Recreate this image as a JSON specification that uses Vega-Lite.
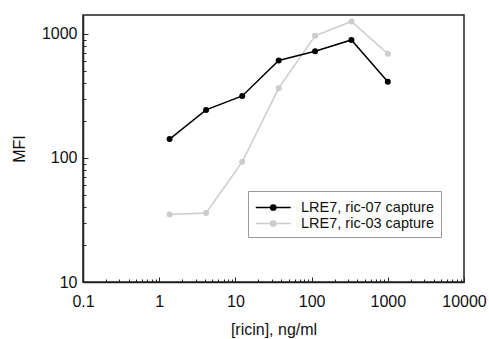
{
  "$schema": "https://vega.github.io/schema/vega-lite/v6.json",
  "width": 381,
  "height": 267,
  "autosize": "none",
  "padding": {"left": 83, "top": 15, "right": 25, "bottom": 57},
  "background": "white",
  "config": {
    "font": "Liberation Sans",
    "view": {"stroke": "#222", "strokeWidth": 1.5},
    "axis": {"grid": false, "domainColor": "#222", "domainWidth": 1.5, "tickColor": "#222", "tickWidth": 1, "labelColor": "#111", "titleColor": "#111", "labelFontSize": 16, "titleFontSize": 16, "titleFontWeight": "normal", "labelOverlap": false, "labelBound": false, "labelFlush": false}
  },
  "data": {
    "values": [
      {"series": "LRE7, ric-03 capture", "conc": 1.37, "mfi": 35},
      {"series": "LRE7, ric-03 capture", "conc": 4.12, "mfi": 36},
      {"series": "LRE7, ric-03 capture", "conc": 12.3, "mfi": 93},
      {"series": "LRE7, ric-03 capture", "conc": 37, "mfi": 365},
      {"series": "LRE7, ric-03 capture", "conc": 111, "mfi": 964},
      {"series": "LRE7, ric-03 capture", "conc": 333, "mfi": 1260},
      {"series": "LRE7, ric-03 capture", "conc": 1000, "mfi": 692},
      {"series": "LRE7, ric-07 capture", "conc": 1.37, "mfi": 142},
      {"series": "LRE7, ric-07 capture", "conc": 4.12, "mfi": 244},
      {"series": "LRE7, ric-07 capture", "conc": 12.3, "mfi": 316},
      {"series": "LRE7, ric-07 capture", "conc": 37, "mfi": 610},
      {"series": "LRE7, ric-07 capture", "conc": 111, "mfi": 725},
      {"series": "LRE7, ric-07 capture", "conc": 333, "mfi": 894},
      {"series": "LRE7, ric-07 capture", "conc": 1000, "mfi": 412}
    ]
  },
  "mark": {"type": "line", "strokeWidth": 1.5, "point": {"filled": true, "size": 36, "opacity": 1}},
  "encoding": {
    "x": {
      "field": "conc", "type": "quantitative",
      "scale": {"type": "log", "domain": [0.1, 10000], "nice": false},
      "axis": {
        "title": "[ricin], ng/ml",
        "values": [0.1,0.2,0.3,0.4,0.5,0.6,0.7,0.8,0.9,1,2,3,4,5,6,7,8,9,10,20,30,40,50,60,70,80,90,100,200,300,400,500,600,700,800,900,1000,2000,3000,4000,5000,6000,7000,8000,9000,10000],
        "format": "~g",
        "labelExpr": "indexof([0.1,1,10,100,1000,10000], datum.value) >= 0 ? datum.label : ''",
        "tickSize": {"condition": {"test": "indexof([0.1,1,10,100,1000,10000], datum.value) >= 0", "value": -5}, "value": -3},
        "labelPadding": 16,
        "titleX": 190.5, "titleY": 47, "titleBaseline": "middle", "titleAlign": "center"
      }
    },
    "y": {
      "field": "mfi", "type": "quantitative",
      "scale": {"type": "log", "domain": [10, 1420], "nice": false},
      "axis": {
        "title": "MFI",
        "values": [10,20,30,40,50,60,70,80,90,100,200,300,400,500,600,700,800,900,1000],
        "format": "~g",
        "labelExpr": "indexof([10,100,1000], datum.value) >= 0 ? datum.label : ''",
        "tickSize": {"condition": {"test": "indexof([10,100,1000], datum.value) >= 0", "value": -5}, "value": -3},
        "labelPadding": 11,
        "titleX": -64, "titleY": 133.5, "titleBaseline": "middle", "titleAlign": "center", "titleAngle": -90
      }
    },
    "color": {
      "field": "series", "type": "nominal",
      "scale": {"domain": ["LRE7, ric-07 capture", "LRE7, ric-03 capture"], "range": ["#000000", "#cccccc"]},
      "legend": {
        "title": null,
        "orient": "none", "legendX": 165, "legendY": 176,
        "strokeColor": "#999", "fillColor": "white", "padding": 7,
        "labelFontSize": 14.5, "labelColor": "#111", "labelOffset": 27,
        "symbolType": "M-1,0L3,0M0.7,0A0.3,0.3,0,1,1,1.3,0A0.3,0.3,0,1,1,0.7,0",
        "symbolSize": 306, "symbolStrokeWidth": 1.5, "rowPadding": 0,
        "encode": {"symbols": {"update": {"fill": {"scale": "color", "field": "value"}, "fillOpacity": {"value": 1}}}}
      }
    }
  }
}
